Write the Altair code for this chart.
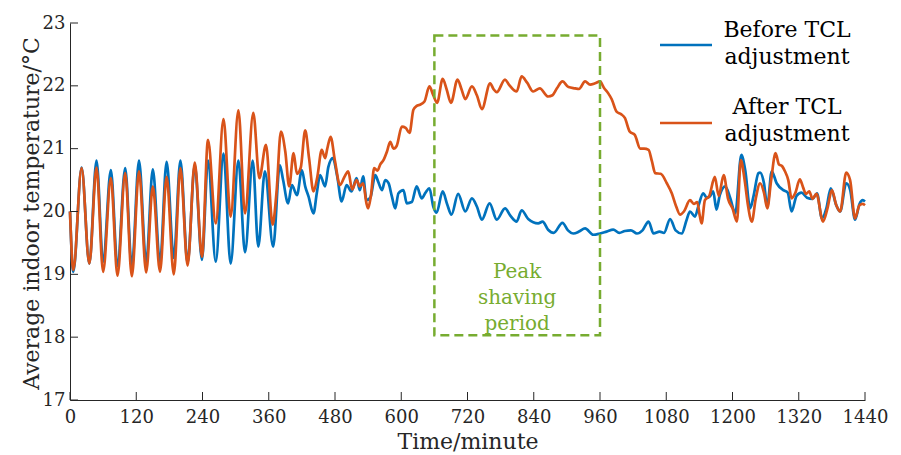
import altair as alt
import pandas as pd

# ---------------- data ----------------
series_names = ["Before TCL adjustment", "After TCL adjustment"]
series_colors = ["#0072BD", "#D95319"]

before_t = [0, 6, 21, 35, 48, 60, 74, 86, 100, 112, 125, 138, 150, 163, 175, 188, 200, 213, 226, 239,
            250, 264, 278, 291, 305, 317, 331, 341, 353, 368, 380, 386, 395, 402, 411, 420, 426, 432,
            441, 447, 453, 462, 468, 476, 484, 492, 501, 510, 519, 525, 531, 537, 544, 553, 558, 565,
            571, 577, 583, 589, 595, 604, 610, 619, 628, 637, 644, 651, 658, 664, 675, 683, 691, 703,
            716, 728, 737, 746, 760, 773, 788, 798, 809, 818, 830, 848, 856, 866, 876, 892, 902, 912,
            922, 933, 948, 960, 972, 984, 995, 1005, 1016, 1027, 1037, 1048, 1057, 1068, 1076, 1087,
            1097, 1108, 1117, 1123, 1132, 1138, 1147, 1153, 1159, 1165, 1171, 1177, 1187, 1196, 1205,
            1216, 1223, 1232, 1238, 1247, 1250, 1257, 1263, 1271, 1280, 1292, 1300, 1307, 1316, 1325,
            1335, 1345, 1353, 1362, 1370, 1378, 1388, 1395, 1406, 1413, 1422, 1430, 1436, 1440]
before_v = [20.00, 19.04, 20.70, 19.17, 20.81, 19.20, 20.66, 19.13, 20.69, 19.12, 20.81, 19.18, 20.67,
            19.18, 20.79, 19.26, 20.81, 19.18, 20.74, 19.23, 20.81, 19.20, 20.92, 19.17, 20.81, 19.35,
            20.81, 19.44, 20.64, 19.44, 20.74, 20.50, 20.13, 20.42, 20.26, 20.66, 20.40, 20.24, 19.97,
            20.29, 20.58, 20.40, 20.71, 20.85, 20.56, 20.16, 20.42, 20.32, 20.53, 20.34, 20.56, 20.18,
            20.22, 20.58, 20.48, 20.34, 20.50, 20.45, 20.24, 20.05, 20.29, 20.34, 20.13, 20.15, 20.40,
            20.21, 20.30, 20.37, 20.08, 19.98, 20.32, 20.12, 19.95, 20.28, 20.00, 20.21, 20.08, 19.87,
            20.13, 19.87, 20.05, 19.93, 19.84, 20.02, 19.88, 19.81, 19.84, 19.71, 19.66, 19.82, 19.70,
            19.65, 19.68, 19.73, 19.63, 19.65, 19.68, 19.71, 19.66, 19.69, 19.70, 19.65, 19.70, 19.84,
            19.65, 19.68, 19.66, 19.88, 19.70, 19.65, 19.87, 20.00, 19.92, 20.08, 20.29, 20.22, 20.24,
            20.32, 20.03, 20.26, 20.40, 20.21, 19.97, 20.90, 20.66, 20.05, 20.24, 20.61, 20.62, 20.45,
            20.08, 20.64, 20.45, 20.34, 20.30, 20.00, 20.25, 20.30, 20.22, 20.20, 20.29, 19.89, 20.05,
            20.37, 20.10, 20.00, 20.45, 20.35, 19.87, 20.12, 20.18, 20.16]

after_t = [0, 6, 21, 35, 48, 60, 74, 86, 100, 112, 125, 138, 150, 163, 175, 188, 200, 213, 226, 239,
           250, 264, 278, 291, 305, 317, 332, 343, 355, 367, 374, 382, 390, 397, 405, 411, 418, 426,
           433, 441, 448, 456, 462, 466, 472, 480, 489, 497, 504, 511, 519, 525, 531, 537, 540, 545,
           551, 557, 562, 568, 574, 580, 586, 592, 601, 608, 615, 622, 628, 634, 642, 651, 658, 665,
           675, 682, 690, 702, 709, 716, 728, 737, 746, 761, 767, 773, 788, 795, 809, 818, 828, 839,
           851, 866, 874, 882, 892, 903, 915, 922, 933, 942, 951, 960, 967, 975, 981, 990, 998, 1005,
           1014, 1023, 1033, 1040, 1048, 1054, 1060, 1070, 1081, 1090, 1098, 1105, 1112, 1123, 1130,
           1136, 1141, 1144, 1150, 1158, 1168, 1175, 1184, 1192, 1200, 1208, 1215, 1222, 1228, 1235,
           1242, 1250, 1257, 1263, 1270, 1278, 1284, 1290, 1295, 1301, 1307, 1314, 1322, 1328, 1333,
           1339, 1345, 1352, 1364, 1372, 1380, 1388, 1395, 1406, 1413, 1422, 1430, 1436, 1440]
after_v = [20.00, 19.07, 20.69, 19.17, 20.70, 19.04, 20.53, 18.98, 20.61, 18.97, 20.64, 19.03, 20.40,
           19.04, 20.55, 19.00, 20.69, 19.14, 20.78, 19.28, 21.14, 19.81, 21.47, 19.92, 21.61, 19.97,
           21.57, 20.53, 21.06, 19.79, 20.30, 21.27, 20.95, 20.40, 20.93, 20.60, 20.70, 21.29, 20.85,
           20.32, 20.55, 20.98, 20.85, 21.00, 21.19, 20.80, 20.42, 20.55, 20.64, 20.35, 20.50, 20.40,
           20.45, 20.13, 20.05, 20.25, 20.69, 20.65, 20.75, 20.82, 20.95, 21.11, 21.00, 21.05, 21.35,
           21.33, 21.25, 21.62, 21.68, 21.70, 21.75, 21.99, 21.85, 21.73, 22.11, 21.95, 21.73, 22.10,
           21.95, 21.79, 21.99, 21.85, 21.63, 22.04, 21.95, 21.90, 22.10, 22.02, 21.91, 22.15, 22.05,
           21.91, 21.96, 21.83, 21.85, 21.96, 22.07, 21.98, 21.96, 21.95, 22.07, 22.02, 22.04, 22.07,
           21.97, 21.88, 21.79, 21.59, 21.55, 21.49, 21.27, 21.22, 21.00, 21.00, 20.98, 20.80, 20.61,
           20.60, 20.45, 20.29, 20.08, 19.95, 20.00, 20.18, 20.12, 20.15, 19.92, 19.81, 20.18, 20.25,
           20.55, 20.25, 20.58, 20.20, 20.05, 19.84, 20.82, 20.50, 20.10, 19.84, 20.20, 20.45, 20.30,
           20.05, 20.50, 20.93, 20.75, 20.72, 20.64, 20.50, 20.21, 20.30, 20.51, 20.38, 20.28, 20.32,
           20.20, 20.28, 19.84, 20.05, 20.34, 20.10, 20.00, 20.62, 20.50, 19.89, 20.10, 20.12, 20.10]

x_ticks = [0, 120, 240, 360, 480, 600, 720, 840, 960, 1080, 1200, 1320, 1440]
y_ticks = [17, 18, 19, 20, 21, 22, 23]

peak_box_t = [660, 960]
peak_box_v = [18.03, 22.80]
peak_label = "Peak\nshaving\nperiod"
peak_label_pos = [810, 19.04]   # position of the first text line

# ---------------- build tables ----------------
df_before = pd.DataFrame({"t": before_t, "v": before_v})
df_after = pd.DataFrame({"t": after_t, "v": after_v})
df_xt = pd.DataFrame({"t": x_ticks})
df_yt = pd.DataFrame({"v": y_ticks})
df_box = pd.DataFrame({"t0": [peak_box_t[0]], "t1": [peak_box_t[1]],
                       "v0": [peak_box_v[0]], "v1": [peak_box_v[1]]})
df_peak = pd.DataFrame({"t": [peak_label_pos[0]], "v": [peak_label_pos[1]], "label": [peak_label]})

FONT = "DejaVu Serif"
INK = "#262626"
W, H = 795, 377
LW = 2.7

xscale = alt.Scale(domain=[0, 1440], nice=False, zero=False)
yscale = alt.Scale(domain=[17, 23], nice=False, zero=False)

x_axis = alt.Axis(values=x_ticks, format="d", tickSize=0, labelPadding=8, labelFlush=False,
                  labelFont=FONT, labelFontSize=18, labelColor=INK, domainColor=INK, domainWidth=1,
                  grid=False, title="Time/minute", titleFont=FONT, titleFontSize=22,
                  titleFontWeight="normal", titleColor=INK, titleY=48, titleX=W / 2,
                  titleBaseline="alphabetic", titleAlign="center")
y_axis = alt.Axis(values=y_ticks, format="d", tickSize=0, labelPadding=5,
                  labelFont=FONT, labelFontSize=18, labelColor=INK, domainColor=INK, domainWidth=1,
                  grid=False, title="Average indoor temperature/°C", titleFont=FONT, titleFontSize=22,
                  titleFontWeight="normal", titleColor=INK, titleAngle=270, titleX=-32, titleY=190,
                  titleBaseline="alphabetic", titleAlign="center")


def X(field):
    return alt.X(field, scale=xscale, axis=x_axis)


def Y(field):
    return alt.Y(field, scale=yscale, axis=y_axis)


line_before = alt.Chart(df_before).mark_line(strokeWidth=LW, interpolate="monotone",
                                             color=series_colors[0]).encode(x=X("t:Q"), y=Y("v:Q"))
line_after = alt.Chart(df_after).mark_line(strokeWidth=LW, interpolate="monotone",
                                           color=series_colors[1]).encode(x=X("t:Q"), y=Y("v:Q"))

xticks = alt.Chart(df_xt).mark_rule(color=INK, strokeWidth=1).encode(
    x=X("t:Q"), y=alt.value(H), y2=alt.value(H - 8))
yticks = alt.Chart(df_yt).mark_rule(color=INK, strokeWidth=1).encode(
    y=Y("v:Q"), x=alt.value(0), x2=alt.value(8))

box = alt.Chart(df_box).mark_rect(fill="transparent", stroke="#77AC30", strokeWidth=2.5,
                                  strokeDash=[9, 5]).encode(
    x=X("t0:Q"), x2="t1:Q", y=Y("v0:Q"), y2="v1:Q")

peak_text = alt.Chart(df_peak).mark_text(font=FONT, fontSize=20, color="#77AC30", lineBreak="\n",
                                         lineHeight=26, align="center", baseline="middle").encode(
    x=X("t:Q"), y=Y("v:Q"), text="label:N")

# legend (manual, top-right)
df_leg = pd.DataFrame({"name": series_names, "color": series_colors,
                       "label": ["Before TCL\nadjustment", "After TCL\nadjustment"]})
leg_layers = []
for i, (ly, ty) in enumerate([(22, 7), (100, 84)]):
    sub = df_leg.iloc[[i]]
    leg_layers.append(alt.Chart(sub).mark_rule(strokeWidth=LW, color=series_colors[i]).encode(
        x=alt.value(590), x2=alt.value(642), y=alt.value(ly)))
    leg_layers.append(alt.Chart(sub).mark_text(font=FONT, fontSize=22, color="black", lineBreak="\n",
                                               lineHeight=27, align="center", baseline="middle").encode(
        x=alt.value(717), y=alt.value(ty), text="label:N"))

chart = alt.layer(line_before, line_after, xticks, yticks, box, peak_text, *leg_layers).properties(
    width=W, height=H,
    autosize=alt.AutoSizeParams(type="none"),
    padding={"left": 62, "top": 15, "right": 28, "bottom": 56},
    background="white",
).configure_view(stroke=None)

chart.save("out.html", embed_options={"renderer": "svg", "actions": False})
